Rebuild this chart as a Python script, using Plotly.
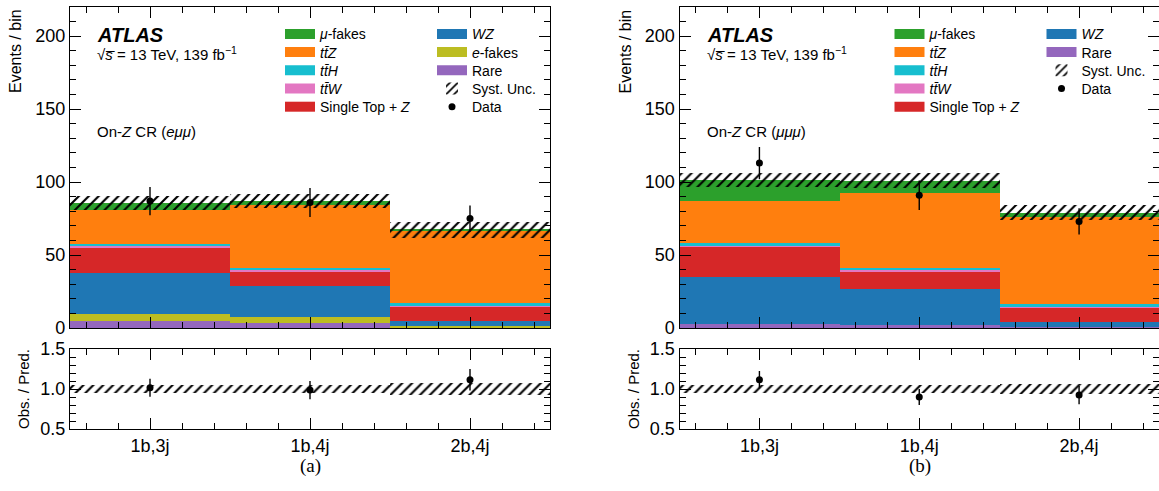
import numpy as np
import plotly.graph_objects as go

categories = ["1b,3j", "1b,4j", "2b,4j"]

# ---- On-Z CR (e mu mu) ----
emm_rare = [5.0, 3.2, 0.5]
emm_efakes = [4.6, 4.1, 1.1]
emm_wz = [27.8, 21.5, 3.3]
emm_stz = [17.9, 10.0, 9.8]
emm_ttw = [0.9, 0.9, 0.7]
emm_tth = [1.3, 1.4, 1.9]
emm_ttz = [23.3, 43.4, 49.2]
emm_mufakes = [4.8, 2.7, 0.7]
emm_syst = [4.8, 4.8, 5.2]
emm_data = [87, 86, 75]
emm_data_err = [9.7, 10.0, 9.0]

# ---- On-Z CR (mu mu mu) ----
mmm_rare = [2.8, 1.8, 0.5]
mmm_wz = [32.1, 25.0, 3.6]
mmm_stz = [20.8, 12.0, 9.7]
mmm_ttw = [1.0, 0.9, 0.6]
mmm_tth = [1.3, 1.4, 2.3]
mmm_ttz = [29.2, 51.3, 59.7]
mmm_mufakes = [14.2, 8.6, 2.6]
mmm_syst = [5.0, 5.0, 5.2]
mmm_data = [113, 91, 73]
mmm_data_err = [11.1, 10.1, 9.0]

COL = {
    "mufakes": "#2ca02c", "ttz": "#ff7f0e", "tth": "#17becf", "ttw": "#e377c2",
    "stz": "#d62728", "wz": "#1f77b4", "efakes": "#bcbd22", "rare": "#9467bd",
}
LBL = {
    "mufakes": "<i>μ</i>-fakes",
    "ttz": "<i>tt\u0304Z</i>",
    "tth": "<i>tt\u0304H</i>",
    "ttw": "<i>tt\u0304W</i>",
    "stz": "Single Top + <i>Z</i>",
    "wz": "<i>WZ</i>",
    "efakes": "<i>e</i>-fakes",
    "rare": "Rare",
    "syst": "Syst. Unc.",
    "data": "Data",
}

FONT = "Liberation Sans, Arial, Helvetica, sans-serif"
W, H = 1159, 491

def px(x):
    return x / W

def py(y):
    return 1 - y / H

panels = [
    dict(
        stack=[("rare", emm_rare), ("efakes", emm_efakes), ("wz", emm_wz), ("stz", emm_stz),
               ("ttw", emm_ttw), ("tth", emm_tth), ("ttz", emm_ttz), ("mufakes", emm_mufakes)],
        syst=emm_syst, data=emm_data, err=emm_data_err,
        legcols=[["mufakes", "ttz", "tth", "ttw", "stz"], ["wz", "efakes", "rare", "syst", "data"]],
        x0=70, x1=550, region="(<i>eμμ</i>)", tag="(a)",
        xm="x", ym="y", xr="x2", yr="y2",
    ),
    dict(
        stack=[("rare", mmm_rare), ("wz", mmm_wz), ("stz", mmm_stz),
               ("ttw", mmm_ttw), ("tth", mmm_tth), ("ttz", mmm_ttz), ("mufakes", mmm_mufakes)],
        syst=mmm_syst, data=mmm_data, err=mmm_data_err,
        legcols=[["mufakes", "ttz", "tth", "ttw", "stz"], ["wz", "rare", "syst", "data"]],
        x0=679.5, x1=1159.5, region="(<i>μμμ</i>)", tag="(b)",
        xm="x3", ym="y3", xr="x4", yr="y4",
    ),
]

centers = np.arange(len(categories)) + 0.5

fig = go.Figure()
layout_legends = {}
annotations = []
leg_counter = [0]

def new_legend(xpix, ypix):
    leg_counter[0] += 1
    name = "legend" if leg_counter[0] == 1 else f"legend{leg_counter[0]}"
    layout_legends[name] = dict(
        x=px(xpix), y=py(ypix), xanchor="left", yanchor="middle",
        bgcolor="rgba(0,0,0,0)", borderwidth=0,
        font=dict(family=FONT, size=14, color="black"),
        itemwidth=30, tracegroupgap=0,
    )
    return name

row_y = [34.3, 52.5, 70.7, 88.9, 107.1]

for p in panels:
    off = p["x0"] - 70
    slot = {}
    for ci, col in enumerate(p["legcols"]):
        lx = (280 if ci == 0 else 432) + off
        for ri, key in enumerate(col):
            slot[key] = new_legend(lx, row_y[ri])

    stack_arr = np.array([v for _, v in p["stack"]], dtype=float)
    cum = np.cumsum(stack_arr, axis=0)
    base = np.vstack([np.zeros(len(categories)), cum[:-1]])
    total = cum[-1]
    syst = np.array(p["syst"], dtype=float)
    data = np.array(p["data"], dtype=float)
    err = np.array(p["err"], dtype=float)

    for i, (key, vals) in enumerate(p["stack"]):
        fig.add_trace(go.Bar(
            x=centers, y=vals, base=base[i], width=1.0,
            marker=dict(color=COL[key], line=dict(width=0)),
            xaxis=p["xm"], yaxis=p["ym"], showlegend=False, hoverinfo="skip",
        ))
    for key, _ in p["stack"]:
        fig.add_trace(go.Scatter(
            x=[None], y=[None], mode="lines", line=dict(color=COL[key], width=10),
            name=LBL[key], legend=slot[key], xaxis=p["xm"], yaxis=p["ym"], showlegend=True,
        ))
    hatch = dict(shape="/", fgcolor="black", fgopacity=1, bgcolor="rgba(0,0,0,0)", size=7, solidity=0.3)
    fig.add_trace(go.Bar(
        x=centers, y=2 * syst, base=total - syst, width=1.0,
        marker=dict(color="rgba(0,0,0,0)", line=dict(width=0), pattern=hatch),
        name=LBL["syst"], legend=slot["syst"], xaxis=p["xm"], yaxis=p["ym"], hoverinfo="skip",
    ))
    fig.add_trace(go.Scatter(
        x=centers, y=data, mode="markers",
        marker=dict(color="black", size=7),
        error_y=dict(type="data", array=err, color="black", thickness=1.4, width=0),
        name=LBL["data"], legend=slot["data"], xaxis=p["xm"], yaxis=p["ym"],
    ))
    rel = syst / total
    fig.add_trace(go.Bar(
        x=centers, y=2 * rel, base=1 - rel, width=1.0,
        marker=dict(color="rgba(0,0,0,0)", line=dict(width=0), pattern=hatch),
        xaxis=p["xr"], yaxis=p["yr"], showlegend=False, hoverinfo="skip",
    ))
    fig.add_trace(go.Scatter(
        x=centers, y=data / total, mode="markers",
        marker=dict(color="black", size=7),
        error_y=dict(type="data", array=err / total, color="black", thickness=1.4, width=0),
        xaxis=p["xr"], yaxis=p["yr"], showlegend=False,
    ))

    annotations += [
        dict(x=px(95 + off), y=py(35), xref="paper", yref="paper", xanchor="left", yanchor="middle",
             text="<b><i>ATLAS</i></b>", showarrow=False, font=dict(family=FONT, size=20, color="black")),
        dict(x=px(95 + off), y=py(53), xref="paper", yref="paper", xanchor="left", yanchor="middle",
             text="√<i>s\u0305</i> = 13 TeV, 139 fb<sup>−1</sup>",
             showarrow=False, font=dict(family=FONT, size=15, color="black")),
        dict(x=px(95 + off), y=py(131), xref="paper", yref="paper", xanchor="left", yanchor="middle",
             text="On-<i>Z</i> CR " + p["region"],
             showarrow=False, font=dict(family=FONT, size=15, color="black")),
        dict(x=px(15 + off), y=py(7), xref="paper", yref="paper", xanchor="center", yanchor="top",
             text="Events / bin", textangle=-90,
             showarrow=False, font=dict(family=FONT, size=16, color="black")),
        dict(x=px((p["x0"] + p["x1"]) / 2), y=py(466), xref="paper", yref="paper",
             xanchor="center", yanchor="middle", text=p["tag"], showarrow=False,
             font=dict(family="Liberation Serif, Times New Roman, serif", size=19, color="black")),
    ]

main_dom = [py(328), py(7)]
ratio_dom = [py(429), py(349)]

def xax(dom, labels, anchor):
    d = dict(
        domain=dom, range=[0, 3], anchor=anchor,
        tickvals=list(centers),
        showticklabels=labels,
        ticks="inside", ticklen=11, tickwidth=1.2, tickcolor="black",
        minor=dict(ticks="inside", ticklen=6, tickwidth=1, tickcolor="black", tick0=0.1, dtick=0.2),
        showline=True, linecolor="black", linewidth=1.3, mirror="ticks",
        showgrid=False, zeroline=False,
        tickfont=dict(family=FONT, size=18, color="black"),
    )
    if labels:
        d["ticktext"] = categories
    return d

def ymain(anchor):
    return dict(
        domain=main_dom, range=[0, 220], anchor=anchor,
        tickvals=[0, 50, 100, 150, 200],
        ticks="inside", ticklen=11, tickwidth=1.2, tickcolor="black",
        minor=dict(ticks="inside", ticklen=6, tickwidth=1, tickcolor="black", dtick=10),
        showline=True, linecolor="black", linewidth=1.3, mirror="ticks",
        showgrid=False, zeroline=False,
        tickfont=dict(family=FONT, size=18, color="black"),
    )

def yratio(anchor):
    return dict(
        domain=ratio_dom, range=[0.5, 1.5], anchor=anchor,
        tickvals=[0.5, 1.0, 1.5], ticktext=["0.5", "1.0", "1.5"],
        ticks="inside", ticklen=11, tickwidth=1.2, tickcolor="black",
        minor=dict(ticks="inside", ticklen=6, tickwidth=1, tickcolor="black", dtick=0.1),
        showline=True, linecolor="black", linewidth=1.3, mirror="ticks",
        showgrid=False, zeroline=False,
        title=dict(text="Obs. / Pred.", font=dict(family=FONT, size=15, color="black"), standoff=6),
        tickfont=dict(family=FONT, size=18, color="black"),
    )

ldom = [px(70), px(550)]
rdom = [px(679.5), 1.0]

fig.update_layout(
    width=W, height=H,
    margin=dict(l=0, r=0, t=0, b=0, autoexpand=False),
    paper_bgcolor="white", plot_bgcolor="white",
    barmode="overlay", bargap=0,
    font=dict(family=FONT, color="black"),
    xaxis=xax(ldom, False, "y"),
    yaxis=ymain("x"),
    xaxis2=xax(ldom, True, "y2"),
    yaxis2=yratio("x2"),
    xaxis3=xax(rdom, False, "y3"),
    yaxis3=ymain("x3"),
    xaxis4=xax(rdom, True, "y4"),
    yaxis4=yratio("x4"),
    annotations=annotations,
    **layout_legends,
)

fig.write_html(
    "out.html",
    config={"displayModeBar": False},
    post_script="document.body.style.margin='0';document.body.style.overflow='hidden';",
)
